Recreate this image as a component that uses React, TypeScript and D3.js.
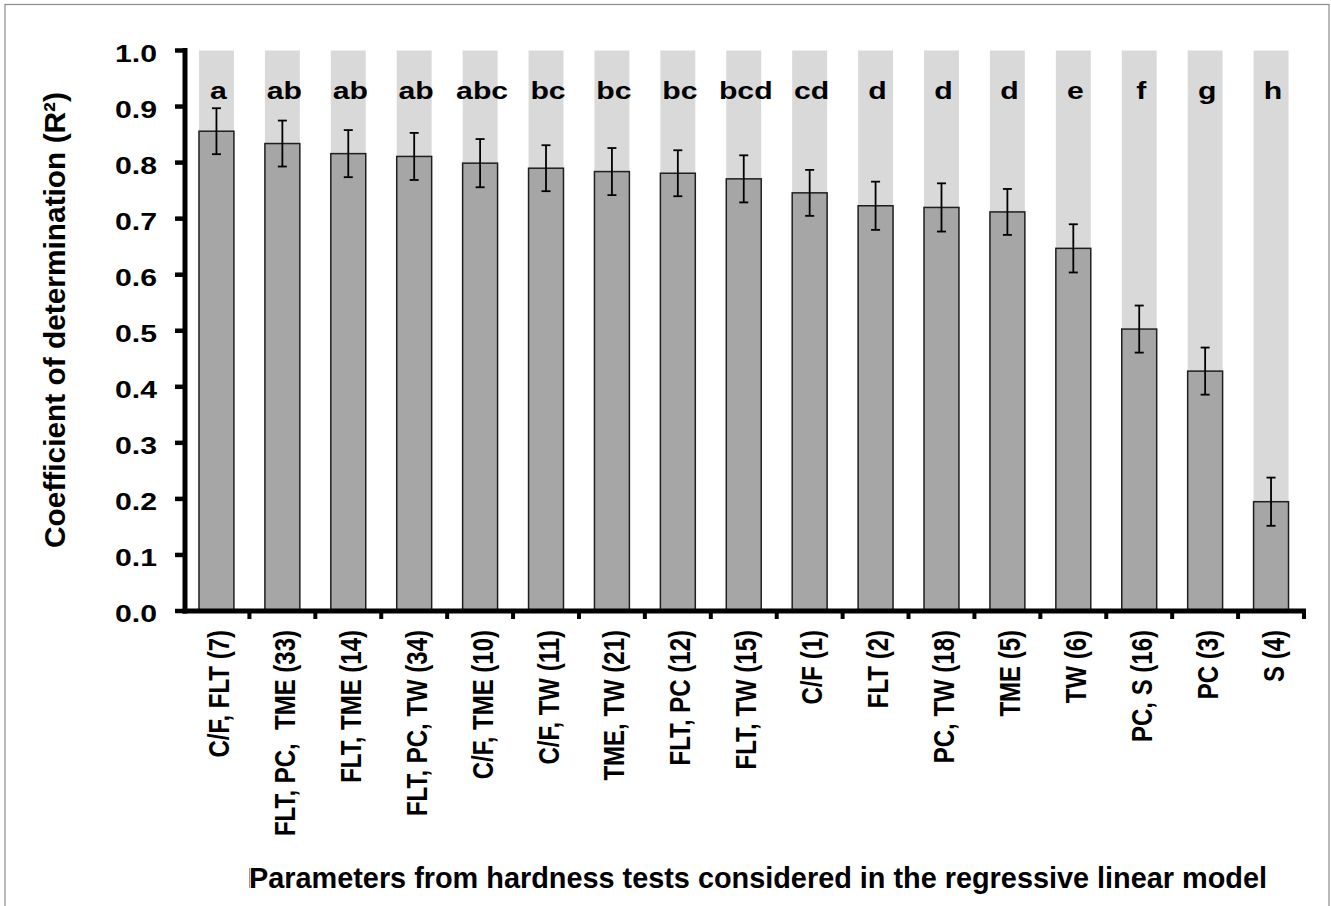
import React from "react";
import * as d3 from "d3";

const categories = [
  "C/F, FLT (7)",
  "FLT, PC,  TME (33)",
  "FLT, TME (14)",
  "FLT, PC, TW (34)",
  "C/F, TME (10)",
  "C/F, TW (11)",
  "TME, TW (21)",
  "FLT, PC (12)",
  "FLT, TW (15)",
  "C/F (1)",
  "FLT (2)",
  "PC, TW (18)",
  "TME (5)",
  "TW (6)",
  "PC, S (16)",
  "PC (3)",
  "S (4)",
];
const r2Values = [0.856, 0.834, 0.816, 0.811, 0.799, 0.79, 0.784, 0.781, 0.771, 0.746, 0.723, 0.72, 0.712, 0.647, 0.503, 0.428, 0.195];
const r2Errors = [0.041, 0.041, 0.042, 0.042, 0.043, 0.041, 0.042, 0.041, 0.042, 0.041, 0.043, 0.043, 0.041, 0.043, 0.042, 0.042, 0.043];
const groupLetters = ["a", "ab", "ab", "ab", "abc", "bc", "bc", "bc", "bcd", "cd", "d", "d", "d", "e", "f", "g", "h"];
const yTicks = [0, 0.1, 0.2, 0.3, 0.4, 0.5, 0.6, 0.7, 0.8, 0.9, 1.0];
const yTitle = "Coefficient of determination (R\u00B2)";
const xTitle = "Parameters from hardness tests considered in the regressive linear model";

export default function App() {
  const W = 1331;
  const H = 906;
  const FONT = "'Liberation Sans', Arial, sans-serif";
  const SX = 1.26;
  const FS = 24;

  const y = d3.scaleLinear().domain([0, 1]).range([611, 50.5]);
  const x = d3.scaleBand<string>().domain(categories).range([183.5, 1304]).padding(0);
  const step = x.step();
  const barW = step * 0.53;
  const axisX = 185;
  const base = y(0);

  return (
    <svg width={W} height={H} style={{ position: "absolute", left: 0, top: 0, background: "#fff" }}>
      <rect x={0} y={0} width={W} height={H} fill="#fff" />
      <rect x={5} y={4.5} width={1324} height={H + 10} fill="none" stroke="#8c8c8c" strokeWidth={1.2} />

      {/* background bars */}
      {categories.map((c) => {
        const cx = (x(c) as number) + step / 2;
        return <rect key={"bg" + c} x={cx - barW / 2} y={y(1)} width={barW} height={base - y(1)} fill="#d9d9d9" />;
      })}

      {/* value bars */}
      {categories.map((c, i) => {
        const cx = (x(c) as number) + step / 2;
        return (
          <rect
            key={"bar" + c}
            x={cx - barW / 2}
            y={y(r2Values[i])}
            width={barW}
            height={base - y(r2Values[i])}
            fill="#a6a6a6"
            stroke="#1f1f1f"
            strokeWidth={1.5}
          />
        );
      })}

      {/* error bars */}
      {categories.map((c, i) => {
        const cx = (x(c) as number) + step / 2;
        const hi = y(r2Values[i] + r2Errors[i]);
        const lo = y(r2Values[i] - r2Errors[i]);
        return (
          <g key={"err" + c} stroke="#000" strokeWidth={1.8}>
            <line x1={cx} x2={cx} y1={hi} y2={lo} />
            <line x1={cx - 4.5} x2={cx + 4.5} y1={hi} y2={hi} />
            <line x1={cx - 4.5} x2={cx + 4.5} y1={lo} y2={lo} />
          </g>
        );
      })}

      {/* significance letters */}
      {categories.map((c, i) => {
        const cx = (x(c) as number) + step / 2 + 2;
        return (
          <text
            key={"let" + c}
            transform={`translate(${cx},99) scale(${SX},1)`}
            textAnchor="middle"
            fontFamily={FONT}
            fontWeight="bold"
            fontSize={FS}
            fill="#000"
          >
            {groupLetters[i]}
          </text>
        );
      })}

      {/* y axis */}
      <line x1={axisX} x2={axisX} y1={y(1) - 2.5} y2={base + 2.5} stroke="#000" strokeWidth={5} />
      {yTicks.map((t) => (
        <g key={"yt" + t}>
          <line x1={175} x2={axisX} y1={y(t)} y2={y(t)} stroke="#000" strokeWidth={4.5} />
          <text
            transform={`translate(157,${y(t) + 11}) scale(${SX},1)`}
            textAnchor="end"
            fontFamily={FONT}
            fontWeight="bold"
            fontSize={FS}
            fill="#000"
          >
            {t.toFixed(1)}
          </text>
        </g>
      ))}

      {/* x axis */}
      <line x1={axisX - 2.5} x2={1306} y1={base} y2={base} stroke="#000" strokeWidth={5} />
      {categories.map((c) => {
        const bx = (x(c) as number) + step;
        return <line key={"xt" + c} x1={bx} x2={bx} y1={base} y2={base + 8} stroke="#000" strokeWidth={4} />;
      })}
      {categories.map((c) => {
        const cx = (x(c) as number) + step / 2 + 12.5;
        return (
          <text
            key={"xl" + c}
            transform={`translate(${cx},630) rotate(-90) scale(1,${SX})`}
            textAnchor="end"
            fontFamily={FONT}
            fontWeight="bold"
            fontSize={FS}
            fill="#000"
            style={{ whiteSpace: "pre" }}
          >
            {c}
          </text>
        );
      })}

      {/* axis titles */}
      <text
        transform={`translate(65,320) rotate(-90) scale(1,${SX})`}
        textAnchor="middle"
        fontFamily={FONT}
        fontWeight="bold"
        fontSize={FS}
        textLength={456}
        lengthAdjust="spacingAndGlyphs"
        fill="#000"
      >
        {yTitle}
      </text>
      <text
        x={249}
        y={888}
        fontFamily={FONT}
        fontWeight="bold"
        fontSize={29}
        textLength={1018}
        lengthAdjust="spacingAndGlyphs"
        fill="#000"
      >
        {xTitle}
      </text>
      <line x1={249.5} x2={249.5} y1={868} y2={888} stroke="#9a9a9a" strokeWidth={1} />
    </svg>
  );
}
